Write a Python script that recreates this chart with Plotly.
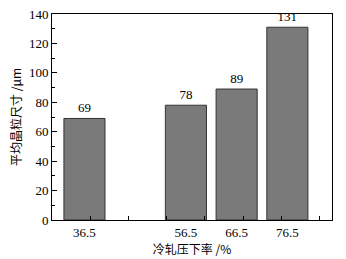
import plotly.graph_objects as go

reduction = [36.5, 56.5, 66.5, 76.5]
grain_size = [69, 78, 89, 131]
tick_labels = ["36.5", "56.5", "66.5", "76.5"]

serif = "Liberation Serif, Times New Roman, serif"

fig = go.Figure(go.Bar(
    x=reduction, y=grain_size, width=8.1,
    marker=dict(color="#7a7a7a", line=dict(color="#333333", width=1)),
    text=[str(v) for v in grain_size], textposition="outside",
    textfont=dict(family=serif, size=13, color="black"),
    cliponaxis=False,
))

fig.update_layout(
    width=346, height=259,
    margin=dict(l=52, r=14, t=14, b=39),
    plot_bgcolor="white", paper_bgcolor="white",
    showlegend=False,
    xaxis=dict(
        range=[30.1, 85.3], tickmode="array", tickvals=reduction, ticktext=tick_labels,
        ticks="", showgrid=False, zeroline=False, automargin=False,
        showline=True, linecolor="black", linewidth=1, mirror=True,
        tickfont=dict(family=serif, size=13, color="black"),
        minor=dict(ticks="inside", ticklen=4, tickcolor="black", tick0=37.6, dtick=7.55, showgrid=False),
        title=dict(text="冷轧压下率 /%", font=dict(family="Noto Sans CJK SC", size=12, color="black"), standoff=0),
    ),
    yaxis=dict(
        range=[0, 140], tickmode="linear", tick0=0, dtick=20,
        ticks="inside", ticklen=5, tickcolor="black",
        showgrid=False, zeroline=False, automargin=False,
        showline=True, linecolor="black", linewidth=1, mirror=True,
        tickfont=dict(family=serif, size=13, color="black"),
        minor=dict(ticks="inside", ticklen=3, tickcolor="black", dtick=10, showgrid=False),
        title=dict(text="平均晶粒尺寸 /μm", font=dict(family="Noto Sans CJK SC", size=12, color="black"), standoff=4),
    ),
)

fig.write_html("out.html", config={"displayModeBar": False},
               post_script="document.body.style.margin='0';")
